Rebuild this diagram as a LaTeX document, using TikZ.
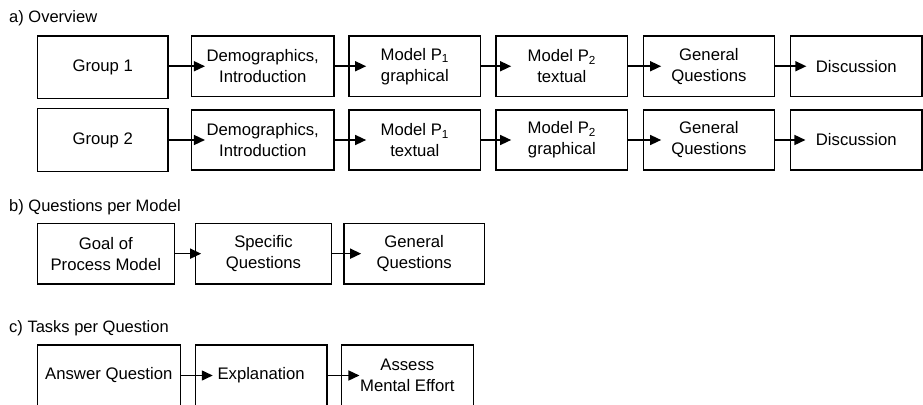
\documentclass[tikz,border=0pt]{standalone}
\usepackage{fontspec}
\setmainfont{Liberation Sans}
\usetikzlibrary{arrows.meta}

\tikzset{
  stage/.style={draw=black, line width=1.1pt, inner sep=0pt, align=center,
    font=\fontsize{16.7}{21}\selectfont},
  flow/.style={draw=black, line width=1.5pt, -{Triangle[length=11pt,width=10pt]}},
  caption/.style={anchor=base west, inner sep=0pt, font=\fontsize{16.5}{20}\selectfont}
}

\newcommand{\stagebox}[6]{% name, cx, cy, width, height, text
  \node[stage, minimum width=#4pt, minimum height=#5pt] (#1) at (#2,#3) {#6};}

\begin{document}
\begin{tikzpicture}[x=1pt, y=-1pt]
  \useasboundingbox (0,0) rectangle (923,404);
  \clip (0,0) rectangle (923,404);

  % section captions
  \node[caption] (capa) at (9,22.3) {a) Overview};
  \node[caption] (capb) at (9,211.5) {b) Questions per Model};
  \node[caption] (capc) at (9,332) {c) Tasks per Question};

  % a) overview, group 1
  \stagebox{ga}{102.75}{67.25}{130.5}{62.5}{Group 1}
  \stagebox{da}{262.75}{66.25}{142.5}{60.5}{Demographics,\\Introduction}
  \stagebox{ma}{414.85}{66.25}{131.7}{60.5}{Model P\textsubscript{1}\\graphical}
  \stagebox{pa}{561.85}{66.25}{131.7}{60.5}{Model P\textsubscript{2}\\textual}
  \stagebox{qa}{708.9}{66.25}{131.2}{60.5}{General\\Questions}
  \stagebox{xa}{856.25}{66.25}{131.5}{60.5}{Discussion}

  % a) overview, group 2
  \stagebox{gb}{102.75}{140.2}{130.5}{63}{Group 2}
  \stagebox{db}{262.75}{140}{142.5}{60}{Demographics,\\Introduction}
  \stagebox{mb}{414.85}{140}{131.7}{60}{Model P\textsubscript{1}\\textual}
  \stagebox{pb}{561.85}{140}{131.7}{60}{Model P\textsubscript{2}\\graphical}
  \stagebox{qb}{708.9}{140}{131.2}{60}{General\\Questions}
  \stagebox{xb}{856.25}{140}{131.5}{60}{Discussion}

  % b) questions per model
  \stagebox{goal}{105.8}{253.65}{137}{60.7}{Goal of\\Process Model}
  \stagebox{spec}{263.5}{253.65}{136.4}{60.7}{Specific\\Questions}
  \stagebox{gen}{414.15}{253.65}{140.3}{60.7}{General\\Questions}

  % c) tasks per question
  \stagebox{ans}{108.8}{375.5}{143}{61}{Answer Question}
  \stagebox{expl}{261.15}{375.5}{131.7}{61}{Explanation}
  \stagebox{effort}{407.3}{375.5}{132}{61}{Assess\\Mental Effort}

  % connectors (tips reach into the next box)
  \draw[flow, shorten >=-14pt]   (ga.east |- da.west) -- (da.west);
  \draw[flow, shorten >=-17.7pt] (da.east) -- (ma.west);
  \draw[flow, shorten >=-15.7pt] (ma.east) -- (pa.west);
  \draw[flow, shorten >=-18.4pt] (pa.east) -- (qa.west);
  \draw[flow, shorten >=-16.4pt] (qa.east) -- (xa.west);

  \draw[flow, shorten >=-14pt]   (gb.east |- db.west) -- (db.west);
  \draw[flow, shorten >=-17.7pt] (db.east) -- (mb.west);
  \draw[flow, shorten >=-15.7pt] (mb.east) -- (pb.west);
  \draw[flow, shorten >=-18.4pt] (pb.east) -- (qb.west);
  \draw[flow, shorten >=-15.5pt] (qb.east) -- (xb.west);

  \draw[flow, shorten >=-6.4pt]  (goal.east) -- (spec.west);
  \draw[flow, shorten >=-17.7pt] (spec.east) -- (gen.west);

  \draw[flow, shorten >=-18pt]   (ans.east) -- (expl.west);
  \draw[flow, shorten >=-18.7pt] (expl.east) -- (effort.west);
\end{tikzpicture}
\end{document}
